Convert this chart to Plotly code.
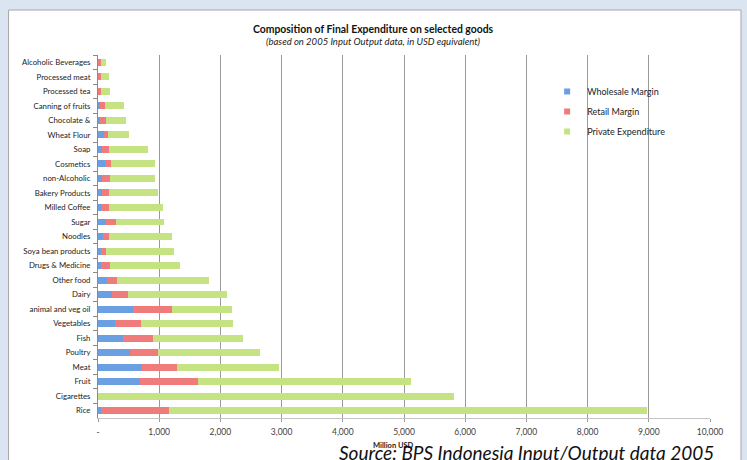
import plotly.graph_objects as go

# Goods, listed top to bottom as drawn
goods = [
    "Alcoholic Beverages", "Processed meat", "Processed tea", "Canning of fruits",
    "Chocolate &", "Wheat Flour", "Soap", "Cosmetics", "non-Alcoholic",
    "Bakery Products", "Milled Coffee", "Sugar", "Noodles", "Soya bean products",
    "Drugs & Medicine", "Other food", "Dairy", "animal and veg oil", "Vegetables",
    "Fish", "Poultry", "Meat", "Fruit", "Cigarettes", "Rice",
]

# Segment sizes in million USD
wholesale = [0, 0, 0, 40, 40, 95, 68, 107, 68, 68, 57, 128, 74, 41, 57, 139,
             221, 566, 270, 402, 516, 713, 680, 0, 57]
retail = [44, 44, 44, 67, 83, 61, 104, 98, 121, 104, 115, 159, 98, 82, 132, 164,
          263, 639, 427, 491, 459, 574, 951, 0, 1099]
private = [79, 128, 144, 311, 328, 344, 639, 721, 743, 803, 885, 787, 1033,
           1115, 1147, 1508, 1623, 984, 1508, 1476, 1675, 1663, 3489, 5820, 7814]

tick_vals = [0, 1000, 2000, 3000, 4000, 5000, 6000, 7000, 8000, 9000, 10000]
tick_text = ["-", "1,000", "2,000", "3,000", "4,000", "5,000", "6,000",
             "7,000", "8,000", "9,000", "10,000"]

series = [
    ("Wholesale Margin", wholesale, "#6a9fe2"),
    ("Retail Margin", retail, "#ef7b7b"),
    ("Private Expenditure", private, "#c6e383"),
]

FONT = "Lato"
W, H = 747, 460
L, R, T, B = 97.5, 37, 55, 42
PW, PH = W - L - R, H - T - B


def px(x):
    return (x - L) / PW


def py(y):
    return (H - B - y) / PH


fig = go.Figure()
for i, (name, vals, color) in enumerate(series):
    fig.add_trace(go.Bar(
        y=goods, x=vals, name=name, orientation="h",
        marker=dict(color=color, line=dict(width=0)),
        showlegend=False,
    ))
    # small square swatch for the legend entry
    fig.add_trace(go.Scatter(
        x=[None], y=[None], mode="markers", name=name,
        marker=dict(symbol="square", size=6, color=color),
        legendgroup=f"g{i}", showlegend=True,
    ))

fig.update_layout(
    width=W, height=H,
    margin=dict(l=L, r=R, t=T, b=B),
    barmode="stack", bargap=0.52,
    paper_bgcolor="#dbe5f1",
    plot_bgcolor="rgba(0,0,0,0)",
    font=dict(family=FONT, color="#333333"),
    showlegend=True,
    legend=dict(
        x=px(547), y=py(77), xanchor="left", yanchor="top",
        bgcolor="rgba(0,0,0,0)", font=dict(size=9, color="#222222"),
        traceorder="grouped", tracegroupgap=1, itemwidth=30,
    ),
    xaxis=dict(
        range=[0, 10000], tickvals=tick_vals, ticktext=tick_text,
        showgrid=True, gridcolor="#9a9a9a", gridwidth=1, zeroline=False,
        showline=True, linecolor="#c4c4c4", ticks="outside", ticklen=3,
        tickcolor="#9a9a9a", tickfont=dict(size=8.5, color="#404040"),
        ticklabelstandoff=3,
    ),
    yaxis=dict(
        categoryorder="array", categoryarray=goods, autorange="reversed",
        showline=True, linecolor="#8a8a8a", ticks="outside", ticklen=4,
        tickson="boundaries", tickcolor="#8a8a8a", showgrid=False,
        tickfont=dict(size=7.8, color="#222222"), ticklabelstandoff=5,
    ),
    shapes=[dict(
        type="rect", xref="paper", yref="paper", layer="below",
        x0=px(8), x1=px(741), y0=py(475), y1=py(10),
        fillcolor="white", line=dict(color="#a6a6a6", width=1),
    )],
    annotations=[
        dict(text="<b>Composition of Final Expenditure on selected goods</b>",
             xref="paper", yref="paper", x=px(373), y=py(29),
             xanchor="center", yanchor="middle",
             showarrow=False, font=dict(size=10.4, color="#111111")),
        dict(text="<i>(based on 2005 Input Output data, in USD equivalent)</i>",
             xref="paper", yref="paper", x=px(373), y=py(41),
             xanchor="center", yanchor="middle",
             showarrow=False, font=dict(size=9.5, color="#222222")),
        dict(text="<b>Million USD</b>",
             xref="paper", yref="paper", x=px(393), y=py(446),
             xanchor="center", yanchor="middle",
             showarrow=False, font=dict(size=7.5, color="#222222")),
        dict(text="<i>Source: BPS Indonesia Input/Output data 2005</i>",
             xref="paper", yref="paper", x=px(526), y=py(452),
             xanchor="center", yanchor="middle",
             showarrow=False, font=dict(size=19, color="#111111")),
    ],
)

fig.write_html("out.html")
